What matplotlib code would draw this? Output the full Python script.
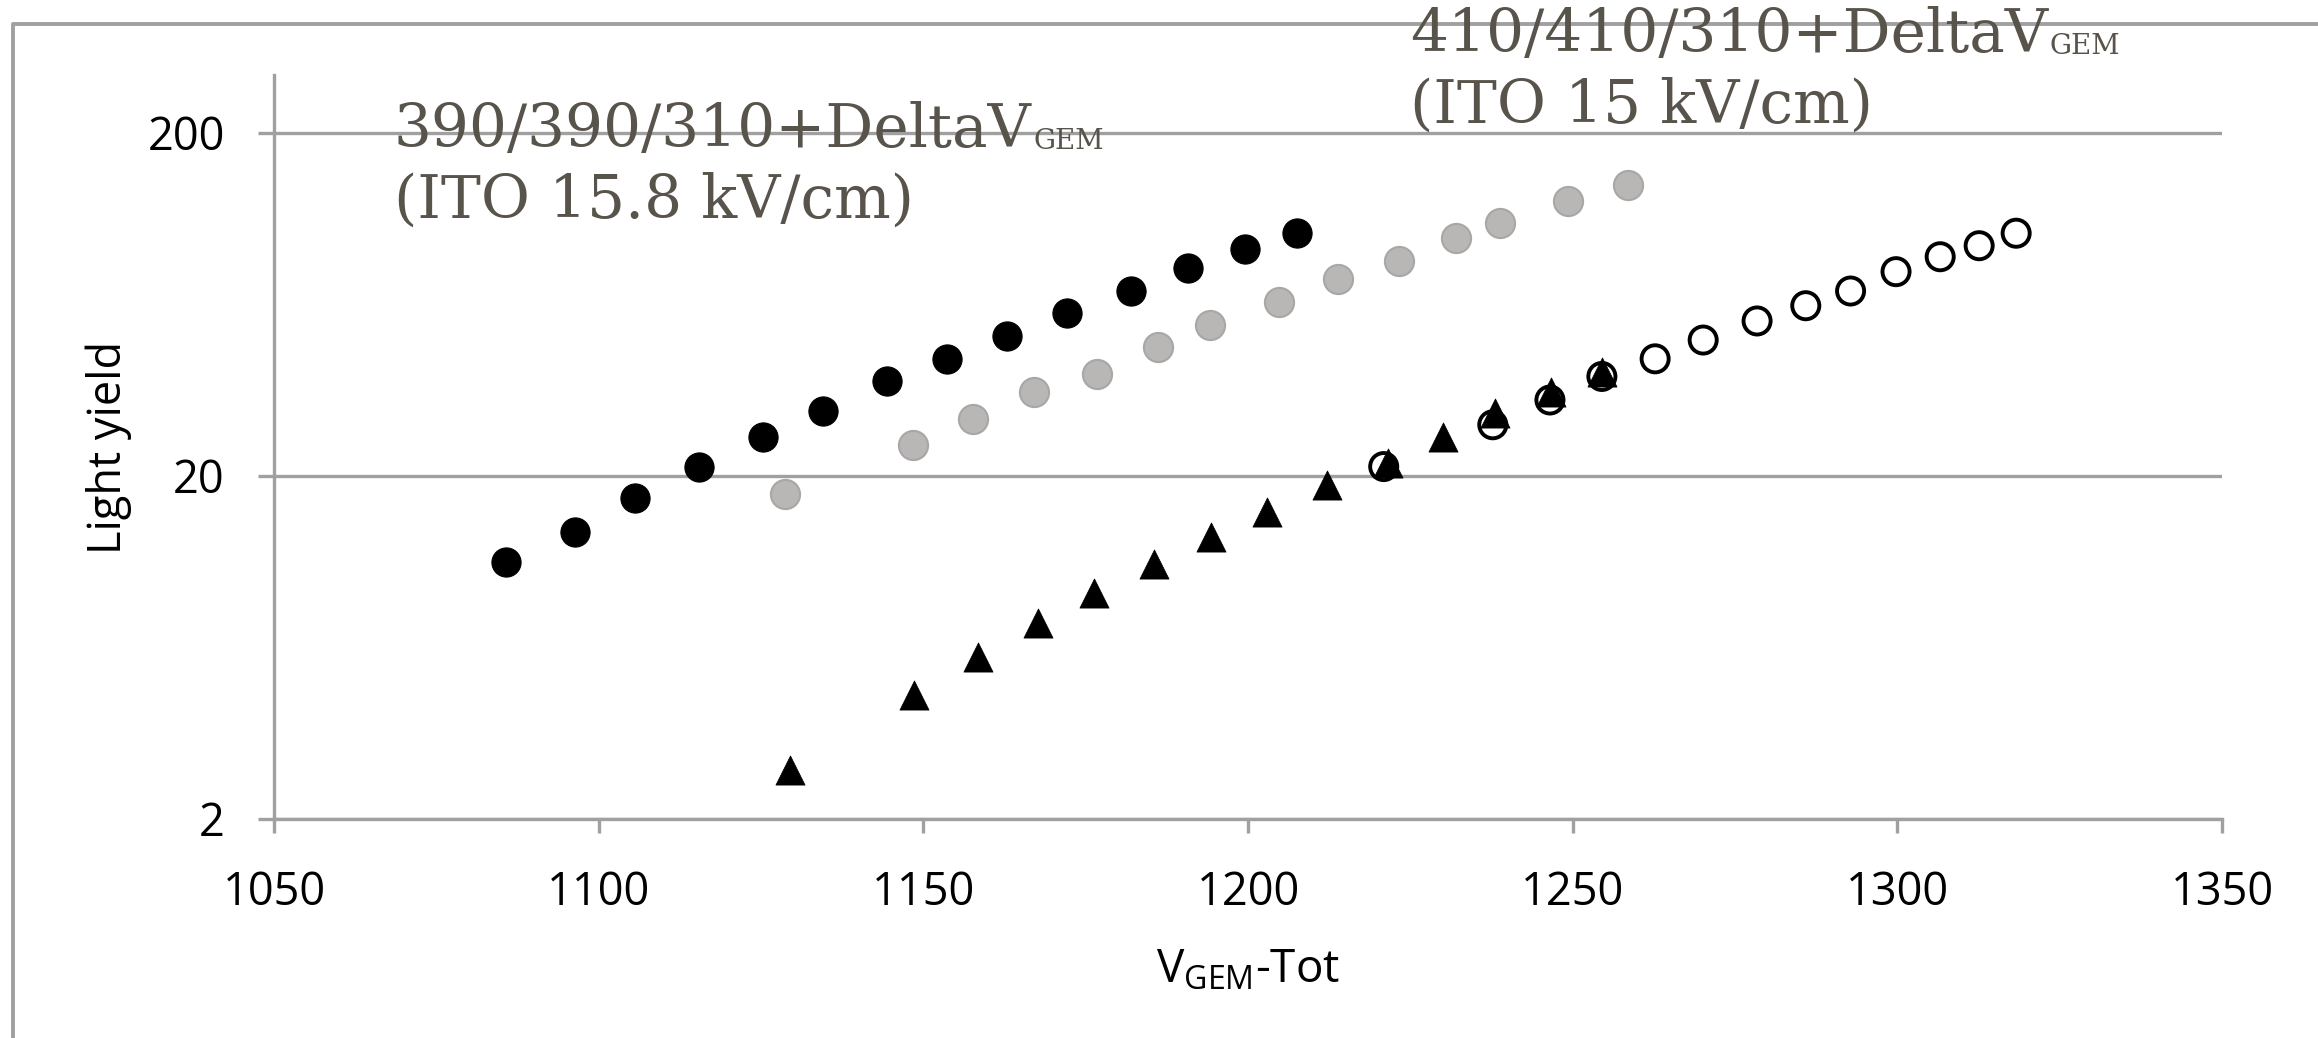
import matplotlib
matplotlib.use("Agg")
import matplotlib.pyplot as plt
from matplotlib.lines import Line2D

# ---- data ----
black_x = [1085.7, 1096.3, 1105.6, 1115.4, 1125.3, 1134.6, 1144.4, 1153.7, 1162.9, 1172.2, 1182.0, 1190.8, 1199.5, 1207.6]
black_y = [11.2, 13.7, 17.3, 21.2, 25.9, 30.9, 37.9, 43.9, 51.2, 59.6, 69.2, 80.7, 91.8, 102]

grey_x = [1128.7, 1148.4, 1157.7, 1167.0, 1176.7, 1186.1, 1194.2, 1204.7, 1213.9, 1223.2, 1232.0, 1238.8, 1249.3, 1258.5]
grey_y = [17.7, 24.6, 29.3, 35.1, 39.7, 47.5, 55.1, 64.2, 74.9, 84.7, 98.6, 109.6, 127, 141]

tri_x = [1129.4, 1148.5, 1158.4, 1167.6, 1176.3, 1185.6, 1194.3, 1203.0, 1212.2, 1221.6, 1230.1, 1238.1, 1246.7, 1254.5]
tri_y = [2.78, 4.60, 5.94, 7.44, 9.10, 11.1, 13.3, 15.7, 18.8, 21.8, 26.0, 30.5, 35.2, 40.3]

open_x = [1220.9, 1237.7, 1246.5, 1254.5, 1262.7, 1270.1, 1278.4, 1285.9, 1292.8, 1299.8, 1306.6, 1312.6, 1318.3]
open_y = [21.3, 28.2, 33.3, 39.0, 43.9, 49.8, 56.6, 62.7, 69.2, 78.8, 87.1, 93.8, 102]

x_ticks = [1050, 1100, 1150, 1200, 1250, 1300, 1350]
y_ticks = [2, 20, 200]
y_ticklabels = ["2", "20", "200"]

note1 = ["390/390/310+DeltaV", "(ITO 15.8 kV/cm)"]
note2 = ["410/410/310+DeltaV", "(ITO 15 kV/cm)"]

# ---- style ----
W, H = 2318, 1038
grid_c = "#A0A0A0"
note_c = "#58534B"
plt.rcParams["font.family"] = ["Open Sans", "DejaVu Sans"]

fig = plt.figure(figsize=(W / 100, H / 100), dpi=100)
ax = fig.add_axes([274 / W, 1 - 819 / H, (2222 - 274) / W, (819 - 75) / H])

ax.set_yscale("log")
ax.set_xlim(1050, 1350)
ax.set_ylim(2, 295)

ax.scatter(black_x, black_y, s=21 ** 2, c="black", edgecolors="black", linewidths=0.8, zorder=3)
ax.scatter(grey_x, grey_y, s=21 ** 2, c="#B9B6B6", edgecolors="#A9A6A6", linewidths=1.5, zorder=3)
ax.scatter(open_x, open_y, s=19.5 ** 2, facecolors="none", edgecolors="black", linewidths=2.8, zorder=3)
ax.scatter(tri_x, tri_y, s=21 ** 2, marker="^", c="black", edgecolors="black", linewidths=0.5, zorder=4)

ax.set_xticks(x_ticks)
ax.set_yticks(y_ticks)
ax.set_yticklabels(y_ticklabels)
ax.minorticks_off()
ax.yaxis.grid(True, color=grid_c, linewidth=2.4)
ax.set_axisbelow(True)
for side in ["top", "right"]:
    ax.spines[side].set_visible(False)
for side in ["left", "bottom"]:
    ax.spines[side].set_color(grid_c)
    ax.spines[side].set_linewidth(2.4)
ax.tick_params(axis="x", direction="out", length=10, width=2.4, color=grid_c,
               labelsize=32.5, pad=27)
ax.tick_params(axis="y", direction="out", length=11.5, width=2.4, color=grid_c,
               labelsize=32.5, pad=24)

fig.text(1248 / W, 1 - 982 / H, r"V$_\mathregular{GEM}$-Tot", ha="center", va="baseline", fontsize=33)
fig.text(109 / W, 1 - 447 / H, "Light yield", rotation=90, ha="center", va="center", fontsize=32.5)

# annotations (slab serif)
def note(lines, x, y1, y2):
    t1 = fig.text(x / W, 1 - y1 / H, lines[0], family="DejaVu Serif", fontsize=43,
                  color=note_c, va="baseline")
    ax.annotate("GEM", xy=(1, 0), xycoords=t1, xytext=(1, 7), textcoords="offset points",
                family="DejaVu Serif", fontsize=20, color=note_c, va="baseline")
    fig.text(x / W, 1 - y2 / H, lines[1], family="DejaVu Serif", fontsize=43,
             color=note_c, va="baseline")

note(note1, 394, 147, 218)
note(note2, 1410, 52, 123)

# frame of the original slide
fig.add_artist(Line2D([13 / W, 13 / W, 1], [0, 1 - 24 / H, 1 - 24 / H],
                      transform=fig.transFigure, color=grid_c, linewidth=2.8))

fig.savefig("out.png", dpi=100)
